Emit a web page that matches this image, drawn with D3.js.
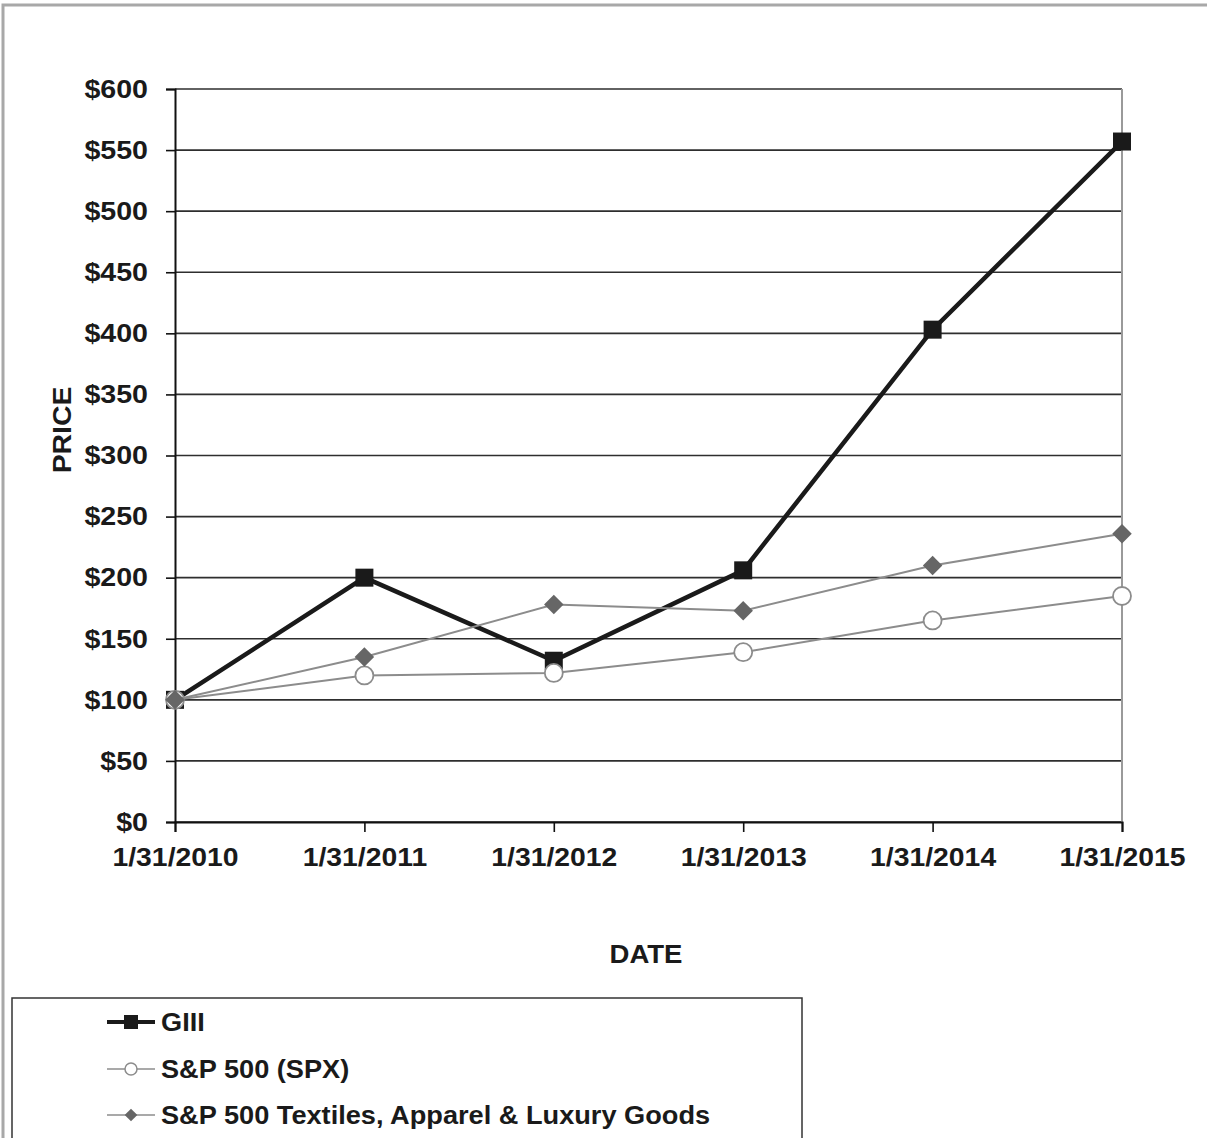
<!DOCTYPE html>
<html>
<head>
<meta charset="utf-8">
<script src="https://cdn.jsdelivr.net/npm/d3@7"></script>
<style>
  body { margin: 0; background: #fff; }
  svg { display: block; font-family: "Liberation Sans", Arial, sans-serif; font-weight: bold; }
</style>
</head>
<body>
<div id="chart"></div>
<script>
// dates on the x axis
const dates = ["1/31/2010", "1/31/2011", "1/31/2012", "1/31/2013", "1/31/2014", "1/31/2015"];
// series values
const giii = [100, 200, 132, 206, 403, 557];
const spx = [100, 120, 122, 139, 165, 185];
const textiles = [100, 135, 178, 173, 210, 236];
// y tick labels
const yTicks = [0, 50, 100, 150, 200, 250, 300, 350, 400, 450, 500, 550, 600];
const seriesNames = ["GIII", "S&P 500 (SPX)", "S&P 500 Textiles, Apparel & Luxury Goods"];

const W = 1207, H = 1138;
const plotLeft = 175, plotRight = 1122, plotTop = 89, plotBottom = 822;

const svg = d3.select('#chart').append('svg')
    .attr('width', W)
    .attr('height', H);

// outer frame
svg.append('rect')
    .attr('x', 3).attr('y', 5)
    .attr('width', W + 20).attr('height', H + 20)
    .attr('fill', 'none')
    .attr('stroke', '#a8a8a8')
    .attr('stroke-width', 3);

const x = d3.scalePoint().domain(dates).range([plotLeft, plotRight]);
const y = d3.scaleLinear().domain([0, 600]).range([plotBottom, plotTop]);

// stretch text a little, the source font is wider
function stretch(sel, k) {
    sel.each(function () {
        const len = this.getComputedTextLength();
        d3.select(this).attr('textLength', len * k).attr('lengthAdjust', 'spacingAndGlyphs');
    });
}

// gridlines
svg.append('g').selectAll('line')
    .data(yTicks)
    .enter()
    .append('line')
    .attr('x1', plotLeft).attr('x2', plotRight)
    .attr('y1', d => y(d)).attr('y2', d => y(d))
    .attr('stroke', '#2e2e2e')
    .attr('stroke-width', 1.6);

// right edge
svg.append('line')
    .attr('x1', plotRight).attr('x2', plotRight)
    .attr('y1', plotTop).attr('y2', plotBottom)
    .attr('stroke', '#9a9a9a')
    .attr('stroke-width', 2);

// y axis
const yAxis = svg.append('g')
    .attr('transform', `translate(${plotLeft},0)`)
    .call(d3.axisLeft(y).tickValues(yTicks).tickSize(9).tickPadding(18).tickFormat(d => '$' + d));
yAxis.select('.domain').attr('stroke', '#111').attr('stroke-width', 2);
yAxis.selectAll('.tick line').attr('stroke', '#111').attr('stroke-width', 1.6);
yAxis.selectAll('text')
    .attr('font-size', 26)
    .attr('font-family', '"Liberation Sans", Arial, sans-serif')
    .attr('font-weight', 'bold')
    .attr('fill', '#1a1a1a')
    .call(stretch, 1.1);

// x axis
const xAxis = svg.append('g')
    .attr('transform', `translate(0,${plotBottom})`)
    .call(d3.axisBottom(x).tickSize(10).tickPadding(16));
xAxis.select('.domain').attr('stroke', '#111').attr('stroke-width', 2);
xAxis.selectAll('.tick line').attr('stroke', '#111').attr('stroke-width', 1.6);
xAxis.selectAll('text')
    .attr('font-size', 26)
    .attr('font-family', '"Liberation Sans", Arial, sans-serif')
    .attr('font-weight', 'bold')
    .attr('fill', '#1a1a1a')
    .call(stretch, 1.09);

// axis titles
svg.append('text')
    .attr('transform', 'translate(71,430) rotate(-90)')
    .attr('text-anchor', 'middle')
    .attr('font-size', 26)
    .attr('fill', '#1a1a1a')
    .text('PRICE')
    .call(stretch, 1.09);

svg.append('text')
    .attr('x', 646).attr('y', 963)
    .attr('text-anchor', 'middle')
    .attr('font-size', 26)
    .attr('fill', '#1a1a1a')
    .text('DATE')
    .call(stretch, 1.06);

const line = d3.line().x((d, i) => x(dates[i])).y(d => y(d));

// GIII
svg.append('path')
    .datum(giii)
    .attr('d', line)
    .attr('fill', 'none')
    .attr('stroke', '#1a1a1a')
    .attr('stroke-width', 4.5);
svg.selectAll('.sq')
    .data(giii)
    .enter()
    .append('rect')
    .attr('x', (d, i) => x(dates[i]) - 9)
    .attr('y', d => y(d) - 9)
    .attr('width', 18).attr('height', 18)
    .attr('fill', '#1a1a1a');

// SPX
svg.append('path')
    .datum(spx)
    .attr('d', line)
    .attr('fill', 'none')
    .attr('stroke', '#8c8c8c')
    .attr('stroke-width', 2);
svg.selectAll('.circ')
    .data(spx)
    .enter()
    .append('circle')
    .attr('cx', (d, i) => x(dates[i]))
    .attr('cy', d => y(d))
    .attr('r', 9)
    .attr('fill', '#fff')
    .attr('stroke', '#8c8c8c')
    .attr('stroke-width', 1.8);

// Textiles
svg.append('path')
    .datum(textiles)
    .attr('d', line)
    .attr('fill', 'none')
    .attr('stroke', '#8c8c8c')
    .attr('stroke-width', 2);
svg.selectAll('.dia')
    .data(textiles)
    .enter()
    .append('path')
    .attr('transform', (d, i) => `translate(${x(dates[i])},${y(d)}) rotate(45)`)
    .attr('d', d3.symbol().type(d3.symbolSquare).size(190))
    .attr('fill', '#666');

// legend
svg.append('rect')
    .attr('x', 12).attr('y', 998)
    .attr('width', 790).attr('height', 200)
    .attr('fill', '#fff')
    .attr('stroke', '#333')
    .attr('stroke-width', 1.5);

const legendY = [1022, 1069, 1115];
const lg = svg.append('g');
seriesNames.forEach((name, i) => {
    const cy = legendY[i];
    lg.append('line')
        .attr('x1', 107).attr('x2', 155)
        .attr('y1', cy).attr('y2', cy)
        .attr('stroke', i === 0 ? '#1a1a1a' : '#8c8c8c')
        .attr('stroke-width', i === 0 ? 4 : 1.5);
    if (i === 0) {
        lg.append('rect').attr('x', 124).attr('y', cy - 7).attr('width', 14).attr('height', 14).attr('fill', '#1a1a1a');
    } else if (i === 1) {
        lg.append('circle').attr('cx', 131).attr('cy', cy).attr('r', 6).attr('fill', '#fff').attr('stroke', '#8c8c8c').attr('stroke-width', 1.5);
    } else {
        lg.append('path').attr('transform', `translate(131,${cy}) rotate(45)`)
            .attr('d', d3.symbol().type(d3.symbolSquare).size(80)).attr('fill', '#666');
    }
    lg.append('text')
        .attr('x', 161).attr('y', cy + 9)
        .attr('font-size', 26)
        .attr('fill', '#1a1a1a')
        .text(name)
        .call(stretch, 1.045);
});
</script>
</body>
</html>
